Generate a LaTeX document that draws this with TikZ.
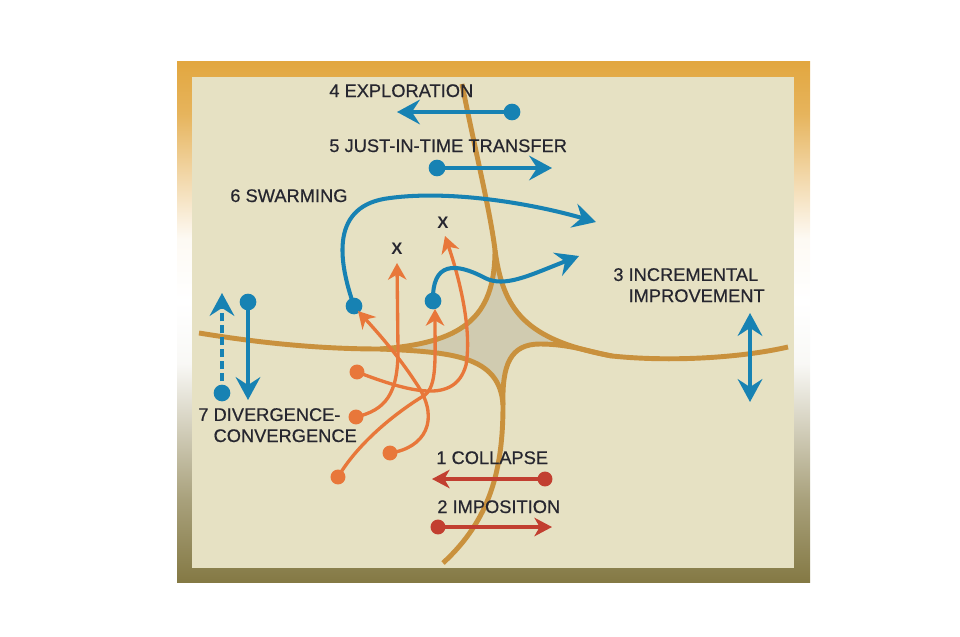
\documentclass[tikz,border=0pt]{standalone}
\usepackage{fontspec}
\setmainfont{Liberation Sans}
\newfontfamily\lblfont{Liberation Sans}[FakeBold=0.5]
\usetikzlibrary{arrows.meta}

\definecolor{panel}{HTML}{E6E1C3}
\definecolor{hub}{HTML}{D0CBB0}
\definecolor{gold}{HTML}{C9913D}
\definecolor{flowblue}{HTML}{1782B3}
\definecolor{floworange}{HTML}{E8773A}
\definecolor{flowred}{HTML}{C23F30}
\definecolor{ink}{HTML}{26262F}
\definecolor{rimgold}{HTML}{E2A740}
\definecolor{rimolive}{HTML}{847944}
\pgfdeclareverticalshading{rim}{100bp}{color(0bp)=(rimolive); color(25bp)=(rimolive);
  color(33bp)=(rimolive!70!white); color(40bp)=(rimolive!35!white); color(46bp)=(white!95!rimolive);
  color(52bp)=(white); color(58bp)=(white!94!rimgold); color(64bp)=(rimgold!45!white);
  color(70bp)=(rimgold!85!white); color(75bp)=(rimgold); color(100bp)=(rimgold)}

\begin{document}
\begin{tikzpicture}[x=0.2mm,y=-0.2mm,
            lbl/.style={
              font=\lblfont\fontsize{10.4}{12}\selectfont,
              text=ink,
              inner sep=0pt,
              anchor=base west,
              align=left
            },
            cross/.style={
              font=\bfseries\fontsize{9.5}{9.5}\selectfont,
              text=ink,
              inner sep=0pt
            },
            goldline/.style={draw=gold, line width=2.8pt},
            bluedot/.style={circle, fill=flowblue, inner sep=0pt, minimum size=9.5pt},
            orangedot/.style={circle, fill=floworange, inner sep=0pt, minimum size=8.5pt},
            reddot/.style={circle, fill=flowred, inner sep=0pt, minimum size=8.5pt},
            bluearr/.style={draw=flowblue, line width=2.3pt,
              >={Stealth[length=13pt,width=14pt,inset=4.5pt]}, ->},
            orangearr/.style={draw=floworange, line width=1.9pt,
              >={Stealth[length=9.5pt,width=10.5pt,inset=3pt]}, ->},
            redarr/.style={draw=flowred, line width=2.2pt,
              >={Stealth[length=10pt,width=10.5pt,inset=3pt]}, ->}
        ]
\useasboundingbox (0,0) rectangle (960,636);

% frame
\shade[shading=rim] (177,62) rectangle (810,582);
\fill[panel] (192,77) rectangle (794,568);

% crossing lines
\coordinate (top) at (462,84);
\coordinate (hubT) at (495,250);
\coordinate (left) at (199,333);
\coordinate (hubL) at (380,349);
\coordinate (right) at (788,347);
\coordinate (hubR) at (612,356);
\coordinate (bottom) at (443,563);
\coordinate (hubB) at (503,405);

\fill[hub] (hubT) .. controls (495,320) and (460,343) .. (hubL)
  .. controls (450,352) and (500,355) .. (hubB)
  .. controls (502,365) and (510,344) .. (540,344)
  .. controls (570,344) and (590,352) .. (hubR)
  .. controls (525,340) and (503,310) .. (hubT) -- cycle;

\draw[goldline] (top) .. controls (475,150) and (490,210) .. (hubT);
\draw[goldline] (left) .. controls (260,343) and (320,349) .. (hubL);
\draw[goldline] (right) .. controls (740,358) and (670,362) .. (hubR);
\draw[goldline] (bottom) .. controls (490,520) and (503,470) .. (hubB);
\draw[goldline] (hubT) .. controls (495,320) and (460,343) .. (hubL);
\draw[goldline] (hubL) .. controls (450,352) and (500,355) .. (hubB);
\draw[goldline] (hubB) .. controls (502,365) and (510,344) .. (540,344)
  .. controls (570,344) and (590,352) .. (hubR);
\draw[goldline] (hubR) .. controls (525,340) and (503,310) .. (hubT);

% labels
\foreach \i/\x/\y/\t in {4/329/97/4 EXPLORATION, 5/329/152/5 JUST-IN-TIME TRANSFER,
    6/230/202/6 SWARMING, 3/613/302/3 INCREMENTAL\\\hphantom{3 }IMPROVEMENT,
    7/198/442/7 DIVERGENCE-\\\hphantom{7 }CONVERGENCE, 1/436/464/1 COLLAPSE,
    2/437/513/2 IMPOSITION}
    \node[lbl] (lbl\i) at (\x,\y) {\t};

% swarming
\node[cross] (miss1) at (397,249) {X};
\node[cross] (miss2) at (443,223) {X};
\node[bluedot] (sw1) at (354,306) {};
\node[bluedot] (sw2) at (433,301) {};
\coordinate (sw1end) at (596,222);
\coordinate (sw2end) at (579,256);

\node[orangedot] (or1) at (357,372) {};
\node[orangedot] (or2) at (356,417) {};
\node[orangedot] (or3) at (390,453) {};
\node[orangedot] (or4) at (338,477) {};
\coordinate (hit1) at (397,263);
\coordinate (hit2) at (445,236);
\coordinate (hit3) at (358,311);
\coordinate (hit4) at (435,309);

\draw[orangearr] (or1.center) .. controls (410,392) and (455,405) .. (466,365)
  .. controls (472,330) and (460,280) .. (hit2);
\draw[orangearr] (or2.center) .. controls (385,410) and (398,395) .. (398,350) -- (hit1);
\draw[orangearr] (or3.center) .. controls (425,448) and (440,420) .. (418,386)
  .. controls (400,358) and (380,335) .. (hit3);
\draw[orangearr] (or4.center) .. controls (360,440) and (400,410) .. (425,395)
  .. controls (437,385) and (435,360) .. (hit4);

\draw[bluearr] (sw1.center) .. controls (338,260) and (330,205) .. (390,198)
  .. controls (450,190) and (530,203) .. (sw1end);
\draw[bluearr] (sw2.center) .. controls (432,262) and (455,262) .. (485,278)
  .. controls (505,288) and (530,275) .. (sw2end);

% exploration, just-in-time
\node[bluedot] (ex) at (512,112) {};
\coordinate (exend) at (397,112);
\draw[bluearr] (ex.center) -- (exend);
\node[bluedot] (jit) at (437,168) {};
\coordinate (jitend) at (552,168);
\draw[bluearr] (jit.center) -- (jitend);

% incremental
\coordinate (incup) at (750,313);
\coordinate (incdown) at (750,402);
\draw[bluearr, <->] (incdown) -- (incup);

% divergence-convergence
\node[bluedot] (dv) at (222,393) {};
\coordinate (dvend) at (222,293);
\draw[bluearr, dash pattern=on 4.5pt off 2.3pt] (dv.center) -- (dvend);
\node[bluedot] (cv) at (248,302) {};
\coordinate (cvend) at (248,400);
\draw[bluearr] (cv.center) -- (cvend);

% collapse, imposition
\node[reddot] (co) at (545,479) {};
\coordinate (coend) at (432,479);
\draw[redarr] (co.center) -- (coend);
\node[reddot] (im) at (438,527) {};
\coordinate (imend) at (552,527);
\draw[redarr] (im.center) -- (imend);

\end{tikzpicture}
\end{document}
